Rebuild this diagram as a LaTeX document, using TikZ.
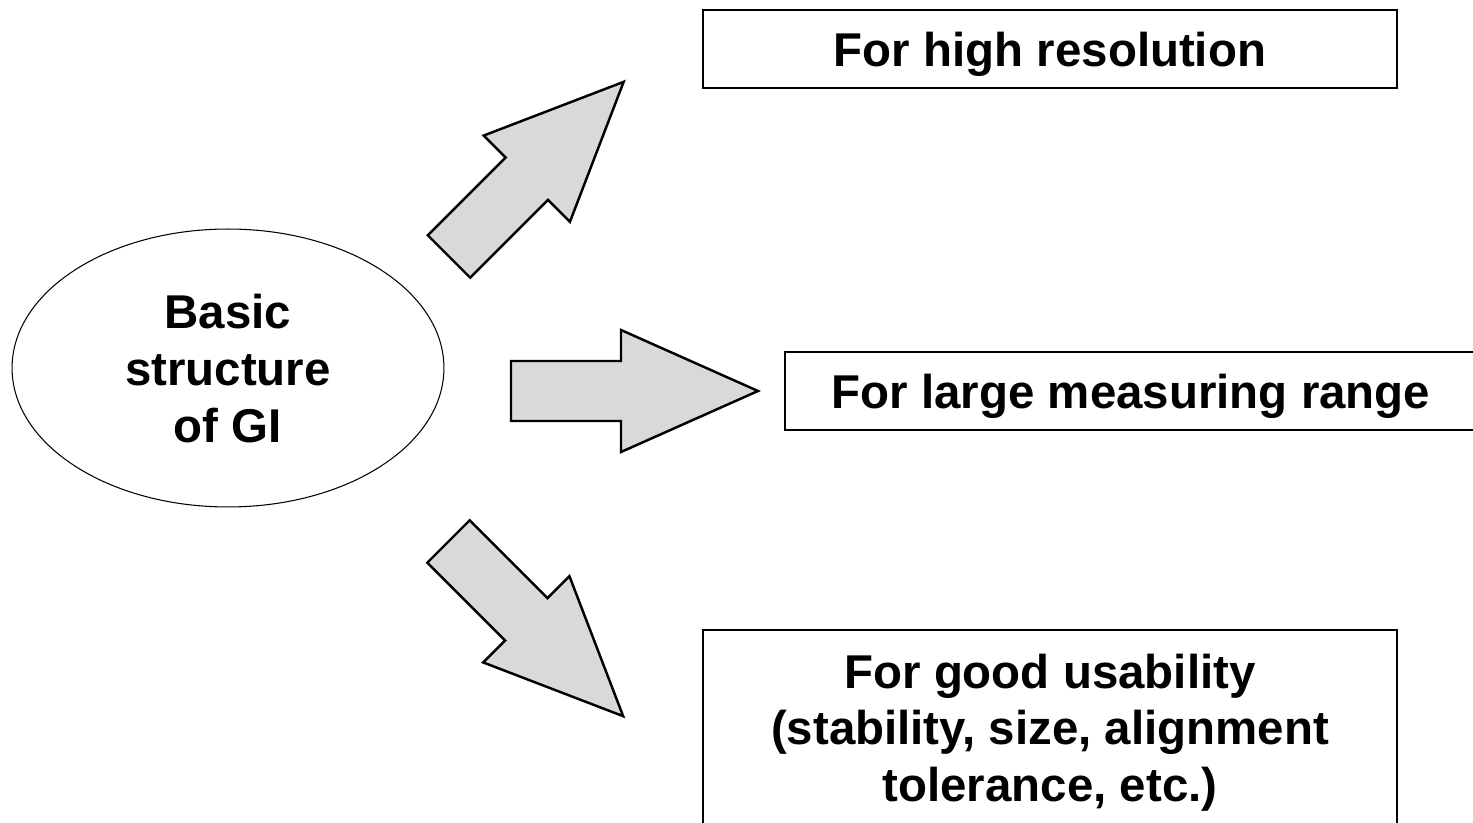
\documentclass[tikz,border=0pt]{standalone}
\usepackage{fontspec}
\setmainfont{Liberation Sans}
\usetikzlibrary{shapes.geometric}
\tikzstyle{goal}=[draw,line width=0.8pt,inner sep=0pt,align=center,font=\bfseries\fontsize{27}{32.4}\selectfont]
\tikzstyle{fatarrow}=[draw,fill=black!15,line width=1.4pt,line join=miter]

\begin{document}
\begin{tikzpicture}[x=0.02cm,y=0.02cm]
\useasboundingbox (0,0) rectangle (1473,822);
\tikzstyle{base}=[goal,ellipse,line width=0.6pt,text depth=-5.7pt,minimum width=8.64cm,minimum height=5.56cm]
\node (S) [base] at (228,454) {Basic\\structure\\of GI};
\node (R) [goal,text depth=0pt,minimum width=13.88cm,minimum height=1.56cm] at (1050,773) {For high resolution};
\node (M) [goal,text depth=0pt,minimum width=13.84cm,minimum height=1.56cm] at (1131,431) {For large measuring range};
\node (U) [goal,text depth=2.5pt,minimum width=13.88cm,minimum height=4cm] at (1050,92) {For good usability\\(stability, size, alignment\\tolerance, etc.)};
% block arrows
\draw [fatarrow,shift={(449,565.5)},rotate=45] (0,30) -- (110,30) -- (110,61) -- (247,0) -- (110,-61) -- (110,-30) -- (0,-30) -- cycle;
\draw [fatarrow,shift={(511,431)}] (0,30) -- (110,30) -- (110,61) -- (247,0) -- (110,-61) -- (110,-30) -- (0,-30) -- cycle;
\draw [fatarrow,shift={(448.5,280.5)},rotate=-45] (0,30) -- (110,30) -- (110,61) -- (247,0) -- (110,-61) -- (110,-30) -- (0,-30) -- cycle;
\end{tikzpicture}
\end{document}
